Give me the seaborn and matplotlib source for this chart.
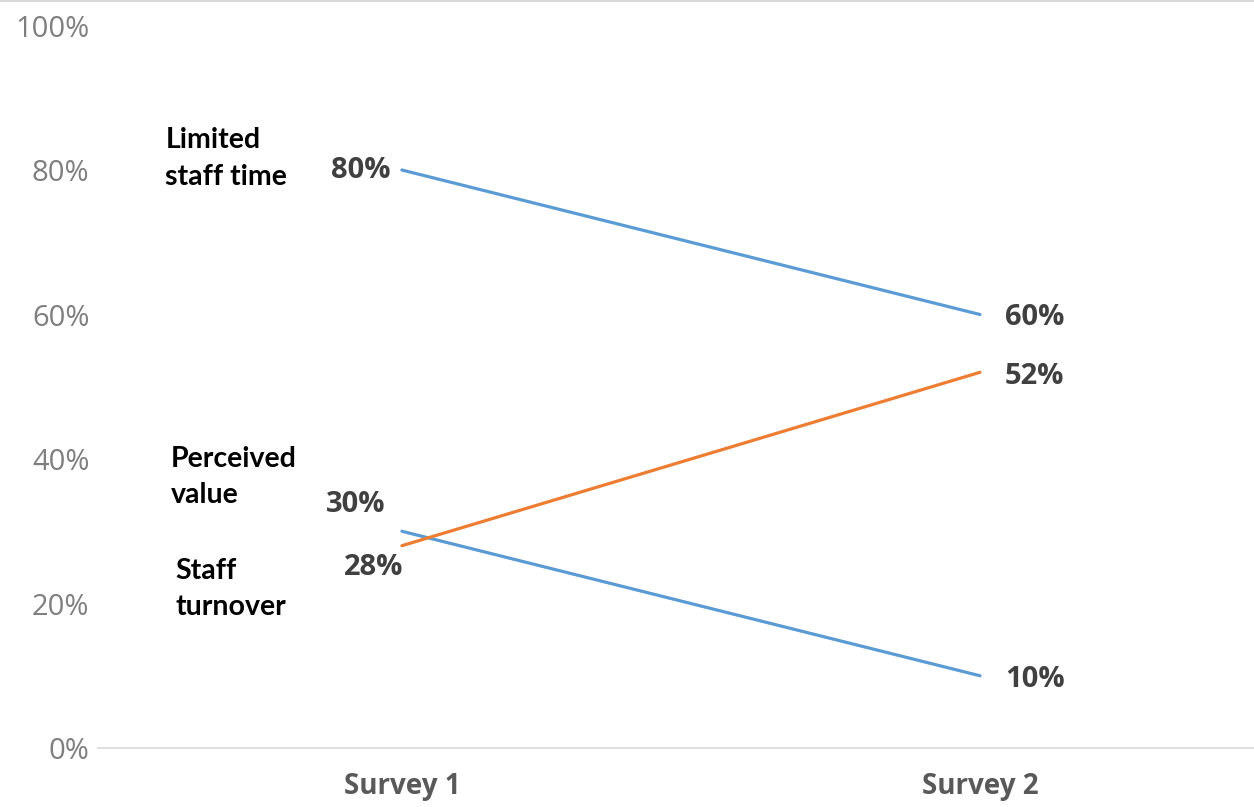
import matplotlib
matplotlib.use("Agg")
import matplotlib.pyplot as plt
import seaborn as sns
import pandas as pd

# Survey results (share of respondents citing each barrier)
surveys = ["Survey 1", "Survey 2"]
limited_staff_time = [80, 60]
staff_turnover = [30, 10]
perceived_value = [28, 52]
series_names = ["Limited staff time", "Staff turnover", "Perceived value"]
y_ticks = [0, 20, 40, 60, 80, 100]

df = pd.DataFrame({
    "survey": surveys * 3,
    "value": limited_staff_time + staff_turnover + perceived_value,
    "series": [series_names[0]] * 2 + [series_names[1]] * 2 + [series_names[2]] * 2,
})

BLUE = "#5B9BD5"
ORANGE = "#ED7D31"
palette = {series_names[0]: BLUE, series_names[1]: BLUE, series_names[2]: ORANGE}

sns.set_theme(style="white")
plt.rcParams["font.family"] = ["Open Sans", "DejaVu Sans"]

fig = plt.figure(figsize=(12.54, 8.07), dpi=100)
ax = fig.add_axes([0.078, 0.0731, 0.922, 0.8953])

sns.lineplot(data=df, x="survey", y="value", hue="series", palette=palette,
             linewidth=2.3, legend=False, ax=ax, sort=False)

ax.set_xlim(-0.526, 1.474)
ax.set_ylim(0, 100)
ax.set_yticks(y_ticks)
ax.set_yticklabels([f"{t}%" for t in y_ticks], color="#7f7f7f", fontsize=21)
ax.set_xticks([0, 1])
ax.set_xticklabels(surveys, color="#595959", fontsize=20, fontweight="bold")
ax.tick_params(axis="y", length=0, pad=6)
ax.tick_params(axis="x", length=0, pad=17)
ax.set_xlabel("")
ax.set_ylabel("")
for side in ["top", "right", "left"]:
    ax.spines[side].set_visible(False)
ax.spines["bottom"].set_color("#d9d9d9")
ax.spines["bottom"].set_linewidth(1.2)
ax.grid(False)

# Value labels at both ends of each line
label_style = dict(fontsize=21, fontweight="bold", color="#404040",
                   textcoords="offset points", va="center")
ax.annotate(f"{limited_staff_time[0]}%", (0, limited_staff_time[0]), xytext=(-8, 0), ha="right", **label_style)
ax.annotate(f"{staff_turnover[0]}%", (0, staff_turnover[0]), xytext=(-12, 19), ha="right", **label_style)
ax.annotate(f"{perceived_value[0]}%", (0, perceived_value[0]), xytext=(1, -16), ha="right", **label_style)
ax.annotate(f"{limited_staff_time[1]}%", (1, limited_staff_time[1]), xytext=(18, -2.5), ha="left", **label_style)
ax.annotate(f"{perceived_value[1]}%", (1, perceived_value[1]), xytext=(18, -3), ha="left", **label_style)
ax.annotate(f"{staff_turnover[1]}%", (1, staff_turnover[1]), xytext=(18, -2.5), ha="left", **label_style)

# Series names to the left of the first survey
name_style = dict(fontsize=20.5, fontweight="bold", color="#000000", family=["Lato", "DejaVu Sans"],
                  ha="left", va="center", linespacing=1.5)
ax.text(-0.409, 81.6, "Limited\nstaff time", **name_style)
ax.text(-0.399, 37.5, "Perceived\nvalue", **name_style)
ax.text(-0.392, 22.0, "Staff\nturnover", **name_style)

# Thin rule along the top edge of the figure
fig.add_artist(plt.Line2D([0, 1], [0.999, 0.999], color="#d9d9d9", linewidth=1.5,
                          transform=fig.transFigure))

fig.savefig("out.png", dpi=100)
